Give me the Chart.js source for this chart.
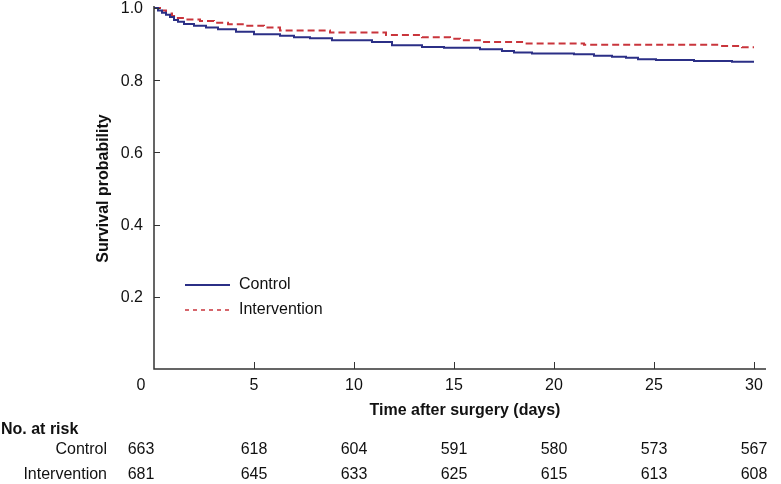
<!DOCTYPE html>
<html>
<head>
<meta charset="utf-8">
<script src="https://cdn.jsdelivr.net/npm/chart.js@4"></script>
<style>
  html, body { margin: 0; padding: 0; background: #fff; }
  #wrap { width: 781px; height: 484px; }
</style>
</head>
<body>
<div id="wrap"><canvas id="km" width="781" height="484"></canvas></div>
<script>
// Kaplan-Meier steps: time (days) and survival after the drop
var controlTimes = [0, 0.2, 0.4, 0.6, 0.8, 1.0, 1.2, 1.5, 2.0, 2.6, 3.2, 4.1, 5.0, 6.3, 7.0, 7.8, 8.9, 10.9, 11.9, 13.4, 14.5, 16.3, 17.4, 18.0, 18.9, 21.0, 22.0, 22.9, 23.6, 24.2, 25.1, 27.0, 28.9, 30];
var controlSurv = [1.0, 0.993, 0.987, 0.981, 0.975, 0.967, 0.962, 0.956, 0.951, 0.946, 0.941, 0.934, 0.927, 0.923, 0.919, 0.916, 0.911, 0.906, 0.897, 0.892, 0.890, 0.886, 0.881, 0.877, 0.874, 0.872, 0.868, 0.865, 0.862, 0.858, 0.856, 0.853, 0.851, 0.851];
var interventionTimes = [0, 0.3, 0.6, 0.9, 1.1, 1.6, 2.3, 3.0, 3.7, 4.6, 5.5, 6.3, 8.8, 11.6, 13.4, 14.8, 15.3, 16.4, 18.5, 21.5, 28.3, 29.4, 30];
var interventionSurv = [1.0, 0.993, 0.985, 0.978, 0.972, 0.968, 0.964, 0.959, 0.955, 0.951, 0.946, 0.938, 0.932, 0.925, 0.919, 0.915, 0.911, 0.906, 0.902, 0.898, 0.895, 0.891, 0.891];

var seriesNames = ['Control', 'Intervention'];
var xTicks = [0, 5, 10, 15, 20, 25, 30];
var yTicks = [0.2, 0.4, 0.6, 0.8, 1.0];
var atRiskTimes = [0, 5, 10, 15, 20, 25, 30];
var controlAtRisk = [663, 618, 604, 591, 580, 573, 567];
var interventionAtRisk = [681, 645, 633, 625, 615, 613, 608];

var BLUE = '#2b2f86';
var RED = '#c9353c';
var FONT = '"Liberation Sans", Arial, Helvetica, sans-serif';

function toPoints(ts, ys) {
  return ts.map(function(t, i) { return {x: t, y: ys[i]}; });
}

// axes, ticks, labels, legend and the at-risk table, all placed through the chart scales
var decor = {
  id: 'decor',
  afterDraw: function(chart) {
    var ctx = chart.ctx;
    var xs = chart.scales.x, ys = chart.scales.y;
    var x0 = xs.getPixelForValue(0), yb = ys.getPixelForValue(0);
    ctx.save();
    ctx.strokeStyle = '#333';
    ctx.lineWidth = 1.5;
    ctx.beginPath();
    ctx.moveTo(x0, ys.getPixelForValue(1.0) - 2);
    ctx.lineTo(x0, yb);
    ctx.lineTo(xs.right, yb);
    ctx.stroke();

    ctx.lineWidth = 1;
    ctx.beginPath();
    yTicks.forEach(function(v) {
      var py = Math.round(ys.getPixelForValue(v)) + 0.5;
      ctx.moveTo(x0, py); ctx.lineTo(x0 + 6, py);
    });
    xTicks.forEach(function(v) {
      if (v === 0) return;
      var px = Math.round(xs.getPixelForValue(v)) + 0.5;
      ctx.moveTo(px, yb); ctx.lineTo(px, yb - 7);
    });
    ctx.stroke();

    ctx.fillStyle = '#111';
    ctx.font = '16px ' + FONT;
    ctx.textBaseline = 'middle';
    ctx.textAlign = 'right';
    yTicks.forEach(function(v) {
      ctx.fillText(v.toFixed(1), x0 - 11, ys.getPixelForValue(v) + 1);
    });
    ctx.textAlign = 'center';
    xTicks.forEach(function(v) {
      var px = xs.getPixelForValue(v) + (v === 0 ? -13 : 0);
      ctx.fillText(String(v), px, yb + 17);
    });

    ctx.font = 'bold 16px ' + FONT;
    ctx.fillText('Time after surgery (days)', 465, yb + 42);
    ctx.save();
    ctx.translate(104, (ys.top + yb) / 2);
    ctx.rotate(-Math.PI / 2);
    ctx.fillText('Survival probability', 0, 0);
    ctx.restore();

    // at-risk table
    ctx.textAlign = 'left';
    ctx.fillText('No. at risk', 1, yb + 61);
    ctx.font = '16px ' + FONT;
    ctx.textAlign = 'right';
    ctx.fillText(seriesNames[0], 107, yb + 81);
    ctx.fillText(seriesNames[1], 107, yb + 106);
    ctx.textAlign = 'center';
    atRiskTimes.forEach(function(t, i) {
      var px = xs.getPixelForValue(t) + (t === 0 ? -13 : 0);
      ctx.fillText(String(controlAtRisk[i]), px, yb + 81);
      ctx.fillText(String(interventionAtRisk[i]), px, yb + 106);
    });

    // legend
    var ly = [285, 310];
    ctx.lineWidth = 2;
    ctx.strokeStyle = BLUE;
    ctx.setLineDash([]);
    ctx.beginPath(); ctx.moveTo(185, ly[0]); ctx.lineTo(230, ly[0]); ctx.stroke();
    ctx.strokeStyle = RED;
    ctx.lineWidth = 1.5;
    ctx.setLineDash([4, 4]);
    ctx.beginPath(); ctx.moveTo(185, ly[1]); ctx.lineTo(230, ly[1]); ctx.stroke();
    ctx.setLineDash([]);
    ctx.fillStyle = '#111';
    ctx.textAlign = 'left';
    ctx.fillText(seriesNames[0], 239, ly[0]);
    ctx.fillText(seriesNames[1], 239, ly[1]);
    ctx.restore();
  }
};

new Chart(document.getElementById('km').getContext('2d'), {
  type: 'line',
  data: {
    datasets: [{
      label: seriesNames[0],
      data: toPoints(controlTimes, controlSurv),
      borderColor: BLUE,
      borderWidth: 2,
      stepped: 'before',
      pointRadius: 0,
      fill: false
    }, {
      label: seriesNames[1],
      data: toPoints(interventionTimes, interventionSurv),
      borderColor: RED,
      borderWidth: 2,
      borderDash: [7, 4],
      stepped: 'before',
      pointRadius: 0,
      fill: false
    }]
  },
  options: {
    responsive: false,
    animation: false,
    clip: false,
    layout: { padding: { left: 154, top: 8, right: 15, bottom: 115 } },
    plugins: { legend: { display: false }, tooltip: { enabled: false } },
    scales: {
      x: { type: 'linear', min: 0, max: 30.6, display: false },
      y: { min: 0, max: 1, display: false }
    }
  },
  plugins: [decor]
});
</script>
</body>
</html>
